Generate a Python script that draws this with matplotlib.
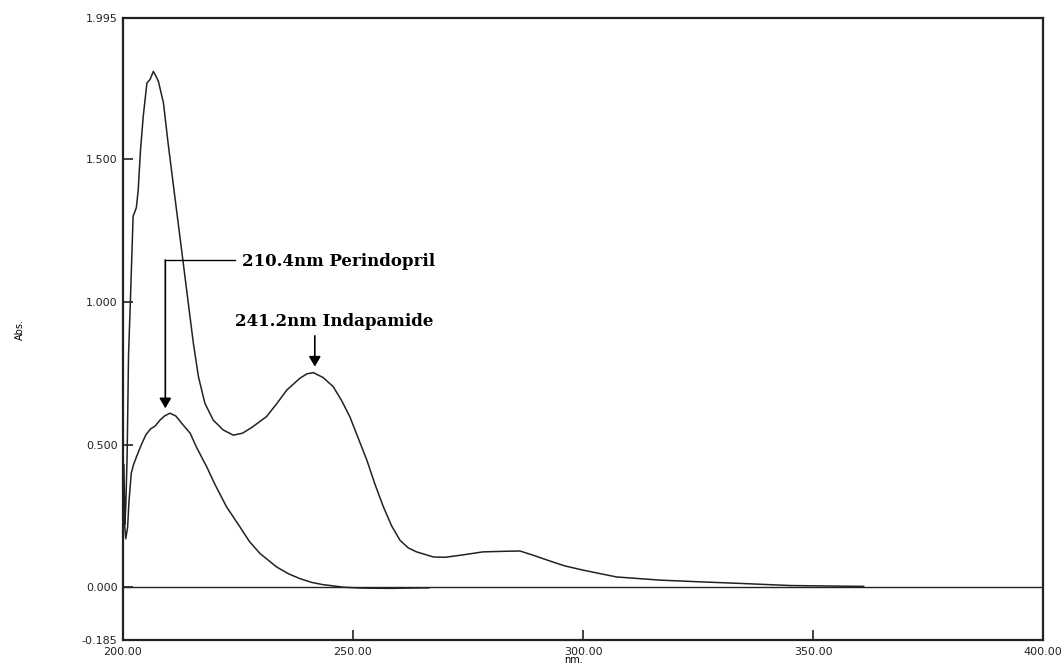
import matplotlib
matplotlib.use("Agg")
import matplotlib.pyplot as plt

# mixture spectrum (upper trace)
mix_nm = [200.2, 200.4, 200.6, 200.9, 201.2, 201.6, 202.2, 202.9, 203.3, 203.8,
          204.4, 205.2, 205.9, 206.6, 207.2, 207.7, 208.8, 209.8, 210.9, 212.0,
          213.1, 214.2, 215.3, 216.4, 217.8, 219.6, 221.8, 224.0, 226.0, 228.0,
          231.2, 233.5, 235.6, 238.5, 240.0, 241.4, 243.5, 245.7, 247.5, 249.3,
          251.2, 253.0, 254.8, 256.6, 258.4, 260.2, 262.0, 263.8, 267.5, 270.0,
          273.3, 278.3, 283.0, 286.3, 289.2, 292.8, 296.0, 300.0, 307.3, 316.7,
          325.4, 334.8, 345.0, 355.0, 361.0]
mix_abs = [0.43, 0.22, 0.28, 0.46, 0.81, 1.00, 1.30, 1.33, 1.39, 1.53,
           1.65, 1.767, 1.78, 1.808, 1.79, 1.773, 1.697, 1.557, 1.416, 1.276,
           1.136, 0.995, 0.855, 0.738, 0.645, 0.586, 0.551, 0.533, 0.54, 0.56,
           0.598, 0.645, 0.691, 0.733, 0.748, 0.752, 0.735, 0.703, 0.655, 0.598,
           0.52, 0.446, 0.36, 0.282, 0.215, 0.165, 0.138, 0.124, 0.106, 0.105,
           0.112, 0.124, 0.126, 0.127, 0.112, 0.092, 0.075, 0.06, 0.036, 0.025,
           0.019, 0.013, 0.006, 0.004, 0.003]

# perindopril spectrum (lower trace)
per_nm = [200.3, 200.6, 201.0, 201.3, 201.8, 202.3, 203.0, 204.0, 205.0, 206.0,
          207.0, 208.0, 209.0, 210.2, 211.5, 213.0, 214.6, 216.0, 218.2, 220.0,
          222.5, 225.4, 227.5, 229.8, 233.4, 236.0, 238.5, 241.0, 243.5, 245.6,
          248.0, 252.0, 258.0, 262.0, 266.5]
per_abs = [0.23, 0.17, 0.21, 0.30, 0.40, 0.43, 0.46, 0.50, 0.535, 0.555,
           0.565, 0.585, 0.60, 0.61, 0.60, 0.57, 0.54, 0.49, 0.422, 0.36,
           0.282, 0.212, 0.16, 0.118, 0.071, 0.047, 0.03, 0.017, 0.009, 0.005,
           0.0, -0.003, -0.004, -0.003, -0.002]

x_ticks = [200, 250, 300, 350, 400]
x_labels = ["200.00", "250.00", "300.00", "350.00", "400.00"]
y_ticks = [-0.185, 0.0, 0.5, 1.0, 1.5, 1.995]
y_labels = ["-0.185", "0.000", "0.500", "1.000", "1.500", "1.995"]

fig = plt.figure(figsize=(10.63, 6.64), dpi=100)
ax = fig.add_axes([0.1157, 0.0361, 0.8655, 0.9368])

ax.plot(mix_nm, mix_abs, color="#222222", lw=1.1)
ax.plot(per_nm, per_abs, color="#222222", lw=1.1)
ax.axhline(0, color="#222222", lw=1.0)

ax.set_xlim(200, 400)
ax.set_ylim(-0.185, 1.995)
ax.set_xticks(x_ticks)
ax.set_xticklabels(x_labels)
ax.set_yticks(y_ticks)
ax.set_yticklabels(y_labels)
ax.tick_params(direction="in", length=7, width=1.2, labelsize=8, pad=4,
               colors="#222222")
ax.tick_params(axis="x", pad=5)
for s in ax.spines.values():
    s.set_linewidth(1.6)
    s.set_color("#222222")

ax.set_ylabel("Abs.", fontsize=7)
ax.yaxis.set_label_coords(-0.107, 0.5)
ax.set_xlabel("nm.", fontsize=7)
ax.xaxis.set_label_coords(0.49, -0.024)

# annotations
serif = "DejaVu Serif"
ax.text(225.9, 1.14, "210.4nm Perindopril", fontsize=12, fontweight="bold",
        family=serif, va="center", ha="left")
ax.plot([224.3, 209.2], [1.147, 1.147], color="black", lw=1.0)
ax.annotate("", xy=(209.2, 0.627), xytext=(209.2, 1.147),
            arrowprops=dict(arrowstyle="-|>,head_length=0.6,head_width=0.35",
                            color="black", lw=1.2, shrinkA=0, shrinkB=0))

ax.text(224.3, 0.933, "241.2nm Indapamide", fontsize=12, fontweight="bold",
        family=serif, va="center", ha="left")
ax.annotate("", xy=(241.7, 0.773), xytext=(241.7, 0.881),
            arrowprops=dict(arrowstyle="-|>,head_length=0.6,head_width=0.35",
                            color="black", lw=1.2, shrinkA=0, shrinkB=0))

fig.savefig("out.png", dpi=100)
